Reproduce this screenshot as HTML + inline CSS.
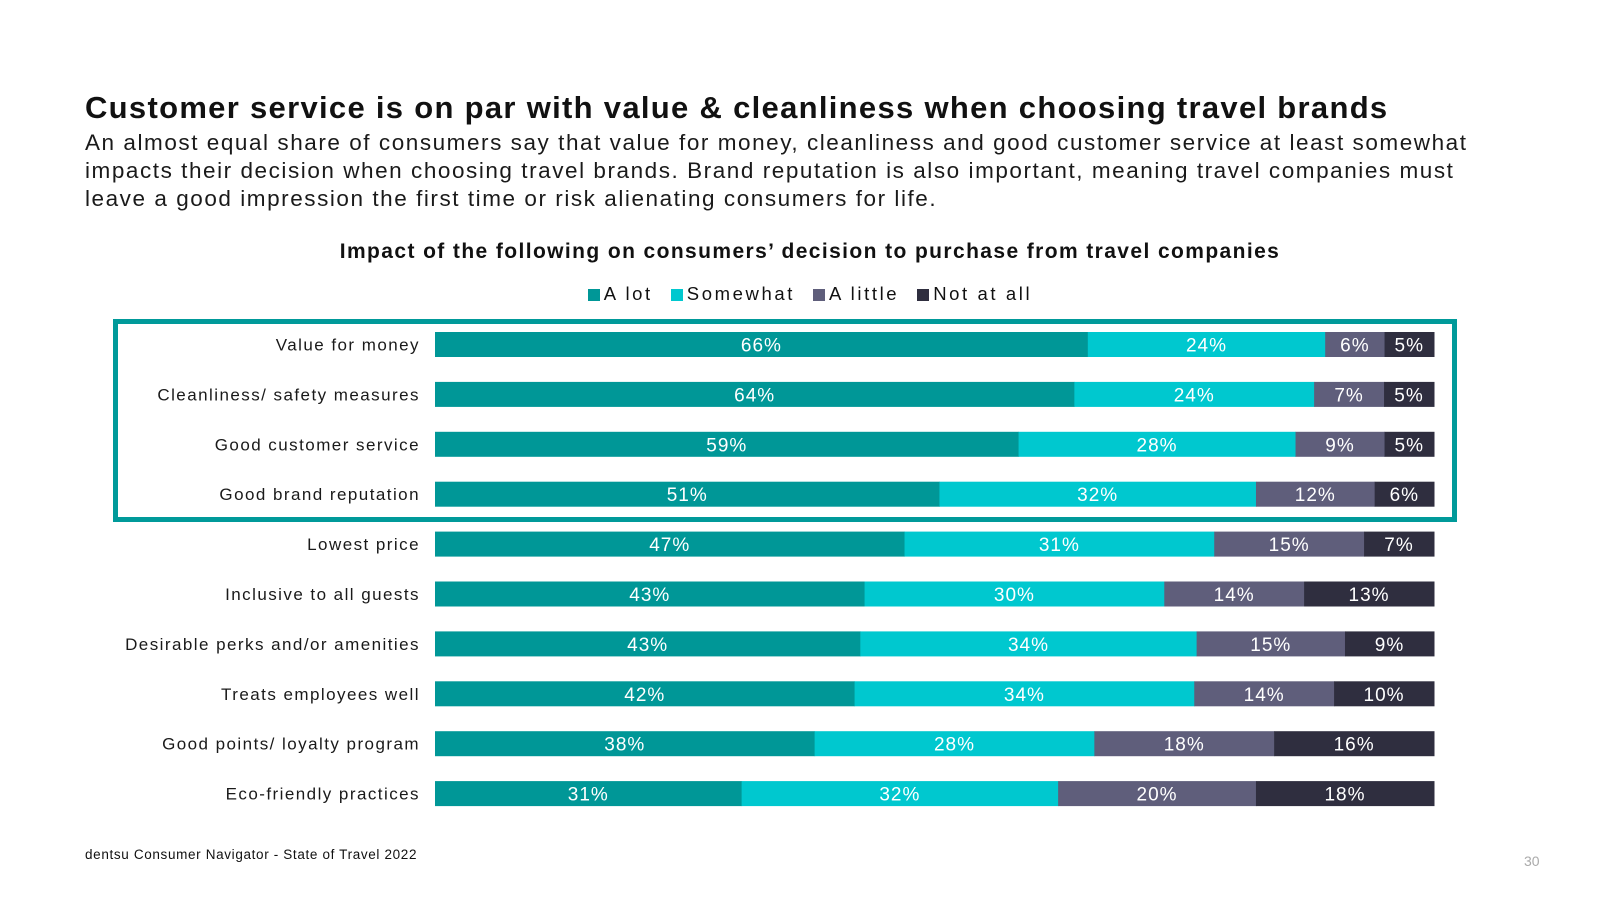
<!DOCTYPE html>
<html><head><meta charset="utf-8">
<style>
body{margin:0;width:1600px;height:900px;background:#fff;font-family:"Liberation Sans",sans-serif;position:relative;overflow:hidden;color:#111}
.abs{position:absolute}
#title{left:85px;top:90px;font-size:31px;font-weight:bold;letter-spacing:1.3px;white-space:nowrap}
#sub{left:85px;top:129px;font-size:22.5px;line-height:28px;width:1520px;color:#1a1a1a;letter-spacing:1.55px;white-space:nowrap}
#ctitle{left:0;width:1620px;top:240px;text-align:center;font-size:21px;font-weight:bold;letter-spacing:1.4px}
#legend{left:0;width:1620px;top:283px;text-align:center;font-size:18.5px;letter-spacing:2.6px}
.lg{display:inline-block;margin:0 9px}
.sw{display:inline-block;width:12px;height:12px;margin-right:4px;vertical-align:-1px}
#box{left:113px;top:319px;width:1334px;height:193px;border:5px solid #009a9a}
#foot{left:85px;top:847px;font-size:13.5px;letter-spacing:0.65px}
#pn{left:1524px;top:853px;font-size:14px;color:#aaa}
</style></head><body>
<div id="title" class="abs">Customer service is on par with value &amp; cleanliness when choosing travel brands</div>
<div id="sub" class="abs">An almost equal share of consumers say that value for money, cleanliness and good customer service at least somewhat<br>impacts their decision when choosing travel brands. Brand reputation is also important, meaning travel companies must<br>leave a good impression the first time or risk alienating consumers for life.</div>
<div id="ctitle" class="abs">Impact of the following on consumers’ decision to purchase from travel companies</div>
<div id="legend" class="abs"></div>
<div id="box" class="abs"></div>
<svg id="chart" class="abs" style="left:0;top:0" width="1600" height="900"></svg>
<div id="foot" class="abs">dentsu Consumer Navigator - State of Travel 2022</div>
<div id="pn" class="abs">30</div>
<script>
const categories=["Value for money","Cleanliness/ safety measures","Good customer service","Good brand reputation","Lowest price","Inclusive to all guests","Desirable perks and/or amenities","Treats employees well","Good points/ loyalty program","Eco-friendly practices"];
const seriesNames=["A lot","Somewhat","A little","Not at all"];
const aLot=[66,64,59,51,47,43,43,42,38,31];
const somewhat=[24,24,28,32,31,30,34,34,28,32];
const aLittle=[6,7,9,12,15,14,15,14,18,20];
const notAtAll=[5,5,5,6,7,13,9,10,16,18];
const colors=["#009797","#00c8cf","#5f5e7b","#2f2e3f"];
const series=[aLot,somewhat,aLittle,notAtAll];
const X0=435,W=999,Y0=332,PITCH=49.9,BH=25;
const xScale=(v,tot)=>v/tot*W;
const yScale=i=>Y0+i*PITCH;
const NS="http://www.w3.org/2000/svg";
const svg=document.getElementById('chart');
const leg=document.getElementById('legend');
seriesNames.forEach((n,k)=>{
  const s=document.createElement('span');s.className='lg';
  
  
  s.innerHTML='<span class="sw" style="background:'+colors[k]+'"></span>'+n;
  leg.appendChild(s);
});
categories.forEach((c,i)=>{
  const y=yScale(i);
  const t=document.createElementNS(NS,'text');
  
  
  t.setAttribute('x',420);t.setAttribute('y',y+BH/2+6);t.setAttribute('text-anchor','end');
  t.setAttribute('font-size','17');t.setAttribute('fill','#1a1a1a');t.setAttribute('letter-spacing','1.45');
  t.setAttribute('font-family','Liberation Sans, sans-serif');t.textContent=c;svg.appendChild(t);
  const tot=series.reduce((a,s)=>a+s[i],0);
  let x=X0;
  series.forEach((s,k)=>{
    const w=xScale(s[i],tot);
    const r=document.createElementNS(NS,'rect');
    
    
    r.setAttribute('x',x);r.setAttribute('y',y);r.setAttribute('width',w+0.5);r.setAttribute('height',BH);r.setAttribute('fill',colors[k]);
    svg.appendChild(r);
    const l=document.createElementNS(NS,'text');
    
    
    l.setAttribute('x',x+w/2);l.setAttribute('y',y+BH/2+7);l.setAttribute('text-anchor','middle');
    l.setAttribute('font-size','19');l.setAttribute('fill','#fff');l.setAttribute('letter-spacing','1');
    l.setAttribute('font-family','Liberation Sans, sans-serif');l.textContent=s[i]+'%';svg.appendChild(l);
    x+=w;
  });
});
</script>
</body></html>
